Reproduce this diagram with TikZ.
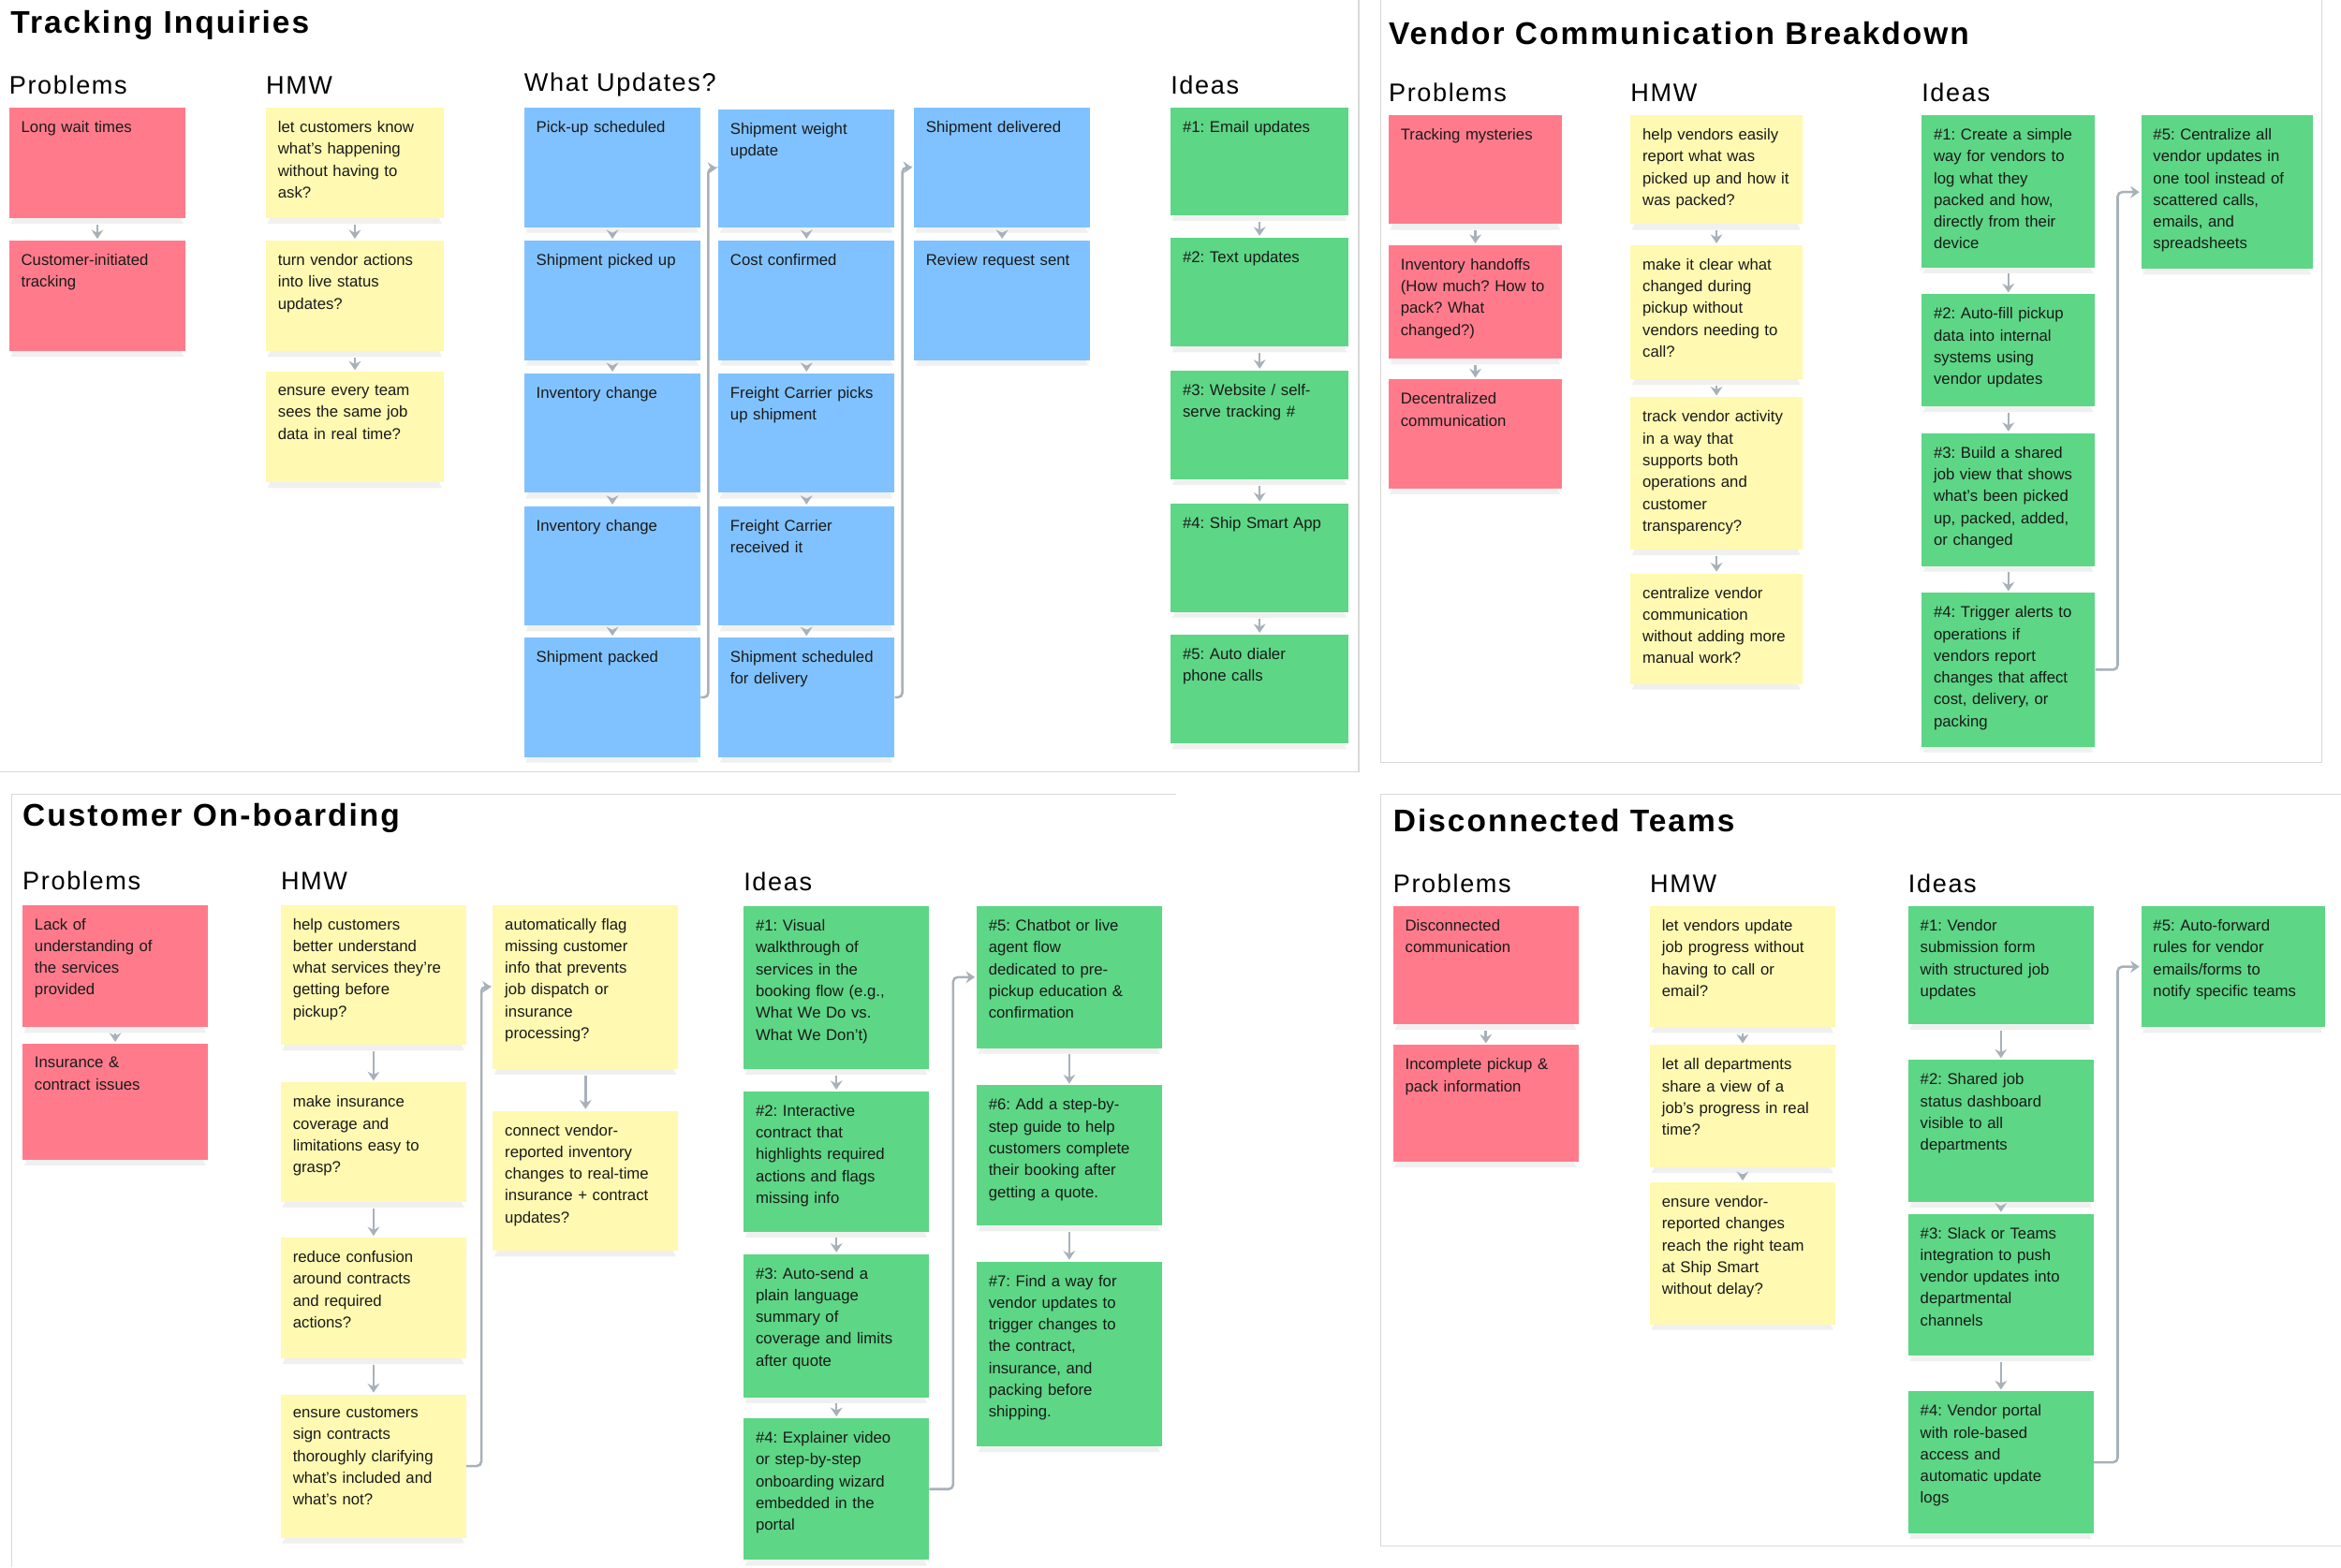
\documentclass[tikz,border=0pt]{standalone}
\usepackage{fontspec}
\setmainfont{Liberation Sans}
\usetikzlibrary{arrows.meta}
\definecolor{pk}{HTML}{FF7B8C}
\definecolor{yl}{HTML}{FFF9B1}
\definecolor{bl}{HTML}{80C2FF}
\definecolor{gr}{HTML}{5DD686}
\definecolor{ar}{HTML}{A8B1BA}
\definecolor{fr}{HTML}{D8D8D8}
\definecolor{tx}{HTML}{1A1A1A}
\frenchspacing
\hyphenpenalty=10000
\exhyphenpenalty=10000
\newcommand\stk[7]{%
 \fill[black!6] (#3+3,#6) -- (#5-3,#6) -- (#5-1,#6+4) -- (#3+1,#6+4) -- cycle;
 \node[anchor=north west, fill=#2, inner sep=0, minimum width={(#5-#3)*1pt}, minimum height={(#6-#4)*1pt}] (#1) at (#3,#4) {};
 \node[txt, text width={(#5-#3-9)*1pt}] (#1t) at (#3+8,#4+9) {#7};}
\tikzset{
 txt/.style={anchor=north west, inner sep=0, align=left, font=\fontsize{10.5}{14.6}\selectfont, text=tx},
 ttl/.style={anchor=west, inner sep=0, font=\fontsize{21}{24}\selectfont\bfseries\addfontfeature{LetterSpace=6}, text=black},
 hdr/.style={anchor=west, inner sep=0, font=\fontsize{17}{20}\selectfont\addfontfeature{LetterSpace=6}, text=black},
 arr/.style={draw=ar, line width=1.6pt, -{Stealth[length=6pt,width=8pt]}, shorten <=4pt, shorten >=1pt},
 elb/.style={draw=ar, line width=1.6pt, -{Stealth[length=6pt,width=8pt]}, rounded corners=3pt, shorten >=1pt},
 frm/.style={draw=fr, line width=0.8pt}
}
\begin{document}
\begin{tikzpicture}[x=1pt,y=-1pt]
\useasboundingbox (0,0) rectangle (1568,1050);
% frames
\draw[frm] (0,517) -- (910,517) -- (910,0);
\draw[frm] (925,0) -- (925,511) -- (1555,511) -- (1555,0);
\draw[frm] (8,1050) -- (8,532) -- (788,532);
\draw[frm] (1568,1036) -- (925,1036) -- (925,532) -- (1568,532);
% ===== Tracking Inquiries
\node[ttl] (t1) at (7,17) {Tracking Inquiries};
\node[hdr] (h1a) at (6,57) {Problems};
\node[hdr] (h1b) at (178,57) {HMW};
\node[hdr] (h1c) at (351,57) {What Updates?};
\node[hdr] (h1d) at (784,57) {Ideas};
\stk{p1}{pk}{6}{72}{124}{146}{Long wait times}
\stk{p2}{pk}{6}{161}{124}{235}{Customer-initiated\\tracking}
\stk{m1}{yl}{178}{72}{297}{146}{let customers know\\what’s happening\\without having to\\ask?}
\stk{m2}{yl}{178}{161}{297}{235}{turn vendor actions\\into live status\\updates?}
\stk{m3}{yl}{178}{249}{297}{323}{ensure every team\\sees the same job\\data in real time?}
\stk{u1}{bl}{351}{72}{469}{152}{Pick-up scheduled}
\stk{u2}{bl}{351}{161}{469}{241}{Shipment picked up}
\stk{u3}{bl}{351}{250}{469}{330}{Inventory change}
\stk{u4}{bl}{351}{339}{469}{419}{Inventory change}
\stk{u5}{bl}{351}{427}{469}{507}{Shipment packed}
\stk{v1}{bl}{481}{73}{599}{152}{Shipment weight\\update}
\stk{v2}{bl}{481}{161}{599}{241}{Cost confirmed}
\stk{v3}{bl}{481}{250}{599}{330}{Freight Carrier picks\\up shipment}
\stk{v4}{bl}{481}{339}{599}{419}{Freight Carrier\\received it}
\stk{v5}{bl}{481}{427}{599}{507}{Shipment scheduled\\for delivery}
\stk{w1}{bl}{612}{72}{730}{152}{Shipment delivered}
\stk{w2}{bl}{612}{161}{730}{241}{Review request sent}
\stk{i1}{gr}{784}{72}{903}{144}{\#1: Email updates}
\stk{i2}{gr}{784}{159}{903}{232}{\#2: Text updates}
\stk{i3}{gr}{784}{248}{903}{321}{\#3: Website / self-\\serve tracking \#}
\stk{i4}{gr}{784}{337}{903}{410}{\#4: Ship Smart App}
\stk{i5}{gr}{784}{425}{903}{498}{\#5: Auto dialer\\phone calls}
\foreach \a/\b in {p1/p2,m1/m2,m2/m3,u1/u2,u2/u3,u3/u4,u4/u5,v1/v2,v2/v3,v3/v4,v4/v5,w1/w2,i1/i2,i2/i3,i3/i4,i4/i5}
 \draw[arr] (\a.south) -- (\b.north);
\draw[elb] (u5.east) -- ++(5,0) |- (v1.west);
\draw[elb] (v5.east) -- ++(5,0) |- (w1.west);
% ===== Vendor Communication Breakdown
\node[ttl] (t2) at (930,22) {Vendor Communication Breakdown};
\node[hdr] (h2a) at (930,62) {Problems};
\node[hdr] (h2b) at (1092,62) {HMW};
\node[hdr] (h2c) at (1287,62) {Ideas};
\stk{q1}{pk}{930}{77}{1046}{150}{Tracking mysteries}
\stk{q2}{pk}{930}{164}{1046}{240}{Inventory handoffs\\(How much? How to\\pack? What\\changed?)}
\stk{q3}{pk}{930}{254}{1046}{327}{Decentralized\\communication}
\stk{n1}{yl}{1092}{77}{1207}{150}{help vendors easily\\report what was\\picked up and how it\\was packed?}
\stk{n2}{yl}{1092}{164}{1207}{254}{make it clear what\\changed during\\pickup without\\vendors needing to\\call?}
\stk{n3}{yl}{1092}{266}{1207}{368}{track vendor activity\\in a way that\\supports both\\operations and\\customer\\transparency?}
\stk{n4}{yl}{1092}{384}{1207}{458}{centralize vendor\\communication\\without adding more\\manual work?}
\stk{j1}{gr}{1287}{77}{1403}{179}{\#1: Create a simple\\way for vendors to\\log what they\\packed and how,\\directly from their\\device}
\stk{j2}{gr}{1287}{197}{1403}{272}{\#2: Auto-fill pickup\\data into internal\\systems using\\vendor updates}
\stk{j3}{gr}{1287}{290}{1403}{379}{\#3: Build a shared\\job view that shows\\what’s been picked\\up, packed, added,\\or changed}
\stk{j4}{gr}{1287}{397}{1403}{500}{\#4: Trigger alerts to\\operations if\\vendors report\\changes that affect\\cost, delivery, or\\packing}
\stk{j5}{gr}{1434}{77}{1549}{180}{\#5: Centralize all\\vendor updates in\\one tool instead of\\scattered calls,\\emails, and\\spreadsheets}
\foreach \a/\b in {q1/q2,q2/q3,n1/n2,n2/n3,n3/n4,j1/j2,j2/j3,j3/j4}
 \draw[arr] (\a.south) -- (\b.north);
\draw[elb] (j4.east) -- ++(15,0) |- (j5.west);
% ===== Customer On-boarding
\node[ttl] (t3) at (15,548) {Customer On-boarding};
\node[hdr] (h3a) at (15,590) {Problems};
\node[hdr] (h3b) at (188,590) {HMW};
\node[hdr] (h3c) at (498,591) {Ideas};
\stk{r1}{pk}{15}{606}{139}{688}{Lack of\\understanding of\\the services\\provided}
\stk{r2}{pk}{15}{699}{139}{777}{Insurance \&\\contract issues}
\stk{o1}{yl}{188}{606}{312}{700}{help customers\\better understand\\what services they’re\\getting before\\pickup?}
\stk{o2}{yl}{188}{725}{312}{805}{make insurance\\coverage and\\limitations easy to\\grasp?}
\stk{o3}{yl}{188}{829}{312}{910}{reduce confusion\\around contracts\\and required\\actions?}
\stk{o4}{yl}{188}{934}{312}{1030}{ensure customers\\sign contracts\\thoroughly clarifying\\what’s included and\\what’s not?}
\stk{o5}{yl}{330}{606}{454}{716}{automatically flag\\missing customer\\info that prevents\\job dispatch or\\insurance\\processing?}
\stk{o6}{yl}{330}{744}{454}{838}{connect vendor-\\reported inventory\\changes to real-time\\insurance + contract\\updates?}
\stk{k1}{gr}{498}{607}{622}{716}{\#1: Visual\\walkthrough of\\services in the\\booking flow (e.g.,\\What We Do vs.\\What We Don’t)}
\stk{k2}{gr}{498}{731}{622}{825}{\#2: Interactive\\contract that\\highlights required\\actions and flags\\missing info}
\stk{k3}{gr}{498}{840}{622}{936}{\#3: Auto-send a\\plain language\\summary of\\coverage and limits\\after quote}
\stk{k4}{gr}{498}{950}{622}{1045}{\#4: Explainer video\\or step-by-step\\onboarding wizard\\embedded in the\\portal}
\stk{k5}{gr}{654}{607}{778}{702}{\#5: Chatbot or live\\agent flow\\dedicated to pre-\\pickup education \&\\confirmation}
\stk{k6}{gr}{654}{727}{778}{821}{\#6: Add a step-by-\\step guide to help\\customers complete\\their booking after\\getting a quote.}
\stk{k7}{gr}{654}{845}{778}{969}{\#7: Find a way for\\vendor updates to\\trigger changes to\\the contract,\\insurance, and\\packing before\\shipping.}
\foreach \a/\b in {r1/r2,o1/o2,o2/o3,o3/o4,o5/o6,k1/k2,k2/k3,k3/k4,k5/k6,k6/k7}
 \draw[arr] (\a.south) -- (\b.north);
\draw[elb] (o4.east) -- ++(10,0) |- (o5.west);
\draw[elb] (k4.east) -- ++(16,0) |- (k5.west);
% ===== Disconnected Teams
\node[ttl] (t4) at (933,550) {Disconnected Teams};
\node[hdr] (h4a) at (933,592) {Problems};
\node[hdr] (h4b) at (1105,592) {HMW};
\node[hdr] (h4c) at (1278,592) {Ideas};
\stk{s1}{pk}{933}{607}{1057}{686}{Disconnected\\communication}
\stk{s2}{pk}{933}{700}{1057}{778}{Incomplete pickup \&\\pack information}
\stk{g1}{yl}{1105}{607}{1229}{688}{let vendors update\\job progress without\\having to call or\\email?}
\stk{g2}{yl}{1105}{700}{1229}{782}{let all departments\\share a view of a\\job’s progress in real\\time?}
\stk{g3}{yl}{1105}{792}{1229}{887}{ensure vendor-\\reported changes\\reach the right team\\at Ship Smart\\without delay?}
\stk{l1}{gr}{1278}{607}{1402}{686}{\#1: Vendor\\submission form\\with structured job\\updates}
\stk{l2}{gr}{1278}{710}{1402}{805}{\#2: Shared job\\status dashboard\\visible to all\\departments}
\stk{l3}{gr}{1278}{813}{1402}{908}{\#3: Slack or Teams\\integration to push\\vendor updates into\\departmental\\channels}
\stk{l4}{gr}{1278}{932}{1402}{1027}{\#4: Vendor portal\\with role-based\\access and\\automatic update\\logs}
\stk{l5}{gr}{1434}{607}{1557}{688}{\#5: Auto-forward\\rules for vendor\\emails/forms to\\notify specific teams}
\foreach \a/\b in {s1/s2,g1/g2,g2/g3,l1/l2,l2/l3,l3/l4}
 \draw[arr] (\a.south) -- (\b.north);
\draw[elb] (l4.east) -- ++(16,0) |- (l5.west);
\end{tikzpicture}
\end{document}
